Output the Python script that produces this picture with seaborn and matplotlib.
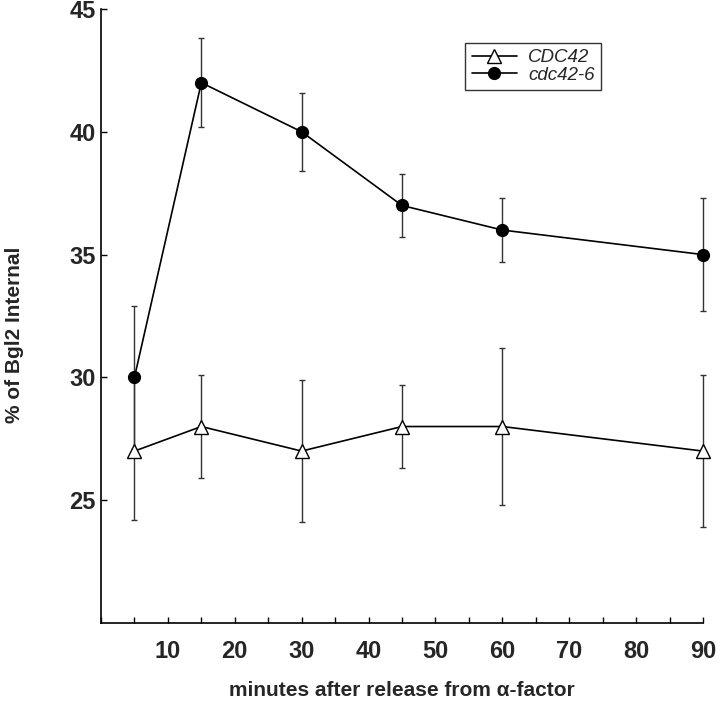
import pandas as pd
import matplotlib
matplotlib.use("Agg")
import matplotlib.pyplot as plt
import seaborn as sns
from matplotlib.ticker import MultipleLocator

# dados
minutes = [5, 15, 30, 45, 60, 90]
wt_pct = [27, 28, 27, 28, 28, 27]
wt_err = [2.8, 2.1, 2.9, 1.7, 3.2, 3.1]
mut_pct = [30, 42, 40, 37, 36, 35]
mut_err = [2.9, 1.8, 1.6, 1.3, 1.3, 2.3]
series_names = ["CDC42", "cdc42-6"]

df = pd.DataFrame({
    "minutes": minutes * 2,
    "pct": wt_pct + mut_pct,
    "err": wt_err + mut_err,
    "strain": [series_names[0]] * len(minutes) + [series_names[1]] * len(minutes),
})

sns.set_style("ticks")
plt.rcParams["font.family"] = ["Liberation Sans", "DejaVu Sans"]

fig = plt.figure(figsize=(7.2, 7.05), dpi=100)
ax = fig.add_axes([101 / 720, 1 - 623 / 705, 602 / 720, 614 / 705])

styles = {
    "CDC42": dict(marker="^", markerfacecolor="white", markersize=10),
    "cdc42-6": dict(marker="o", markerfacecolor="black", markersize=8.5),
}

for name in series_names:
    sub = df[df["strain"] == name]
    eb = ax.errorbar(sub["minutes"], sub["pct"], yerr=sub["err"], fmt="none",
                     ecolor="#333333", elinewidth=1, capsize=2.5, capthick=1,
                     zorder=1)
    for art in eb.get_children():
        art.set_clip_on(False)
    sns.lineplot(data=sub, x="minutes", y="pct", ax=ax, color="black",
                 linewidth=1.2, markeredgecolor="black", markeredgewidth=1,
                 label=name, zorder=3, clip_on=False, **styles[name])

ax.set_xlim(0, 90)
ax.set_ylim(20, 45)
ax.set_yticks([25, 30, 35, 40, 45])
ax.xaxis.set_major_locator(MultipleLocator(10))
ax.xaxis.set_minor_locator(MultipleLocator(5))
ax.set_xticks([10, 20, 30, 40, 50, 60, 70, 80, 90])

ax.tick_params(axis="both", which="both", direction="in", length=4, width=1,
               color="black")
ax.tick_params(axis="x", which="major", pad=12, labelsize=17)
ax.tick_params(axis="y", which="major", pad=4, labelsize=17)
for lab in ax.get_xticklabels() + ax.get_yticklabels():
    lab.set_fontweight("bold")

sns.despine(ax=ax)
for side in ["left", "bottom"]:
    ax.spines[side].set_linewidth(1.2)
    ax.spines[side].set_color("black")

ax.set_xlabel("minutes after release from α-factor", fontsize=15, fontweight="bold")
ax.set_ylabel("% of Bgl2 Internal", fontsize=15, fontweight="bold")
ax.xaxis.set_label_coords(0.5, -0.095)
ax.yaxis.set_label_coords(-0.128, 0.47)

leg = ax.legend(loc="upper left", bbox_to_anchor=(0.605, 0.945), borderaxespad=0,
                frameon=True, fancybox=False, edgecolor="black", fontsize=13.5,
                handlelength=2.4, handletextpad=0.6, labelspacing=0.0,
                borderpad=0.35)
leg.get_frame().set_linewidth(1)
for t in leg.get_texts():
    t.set_fontstyle("italic")

fig.savefig("out.png", dpi=100)
